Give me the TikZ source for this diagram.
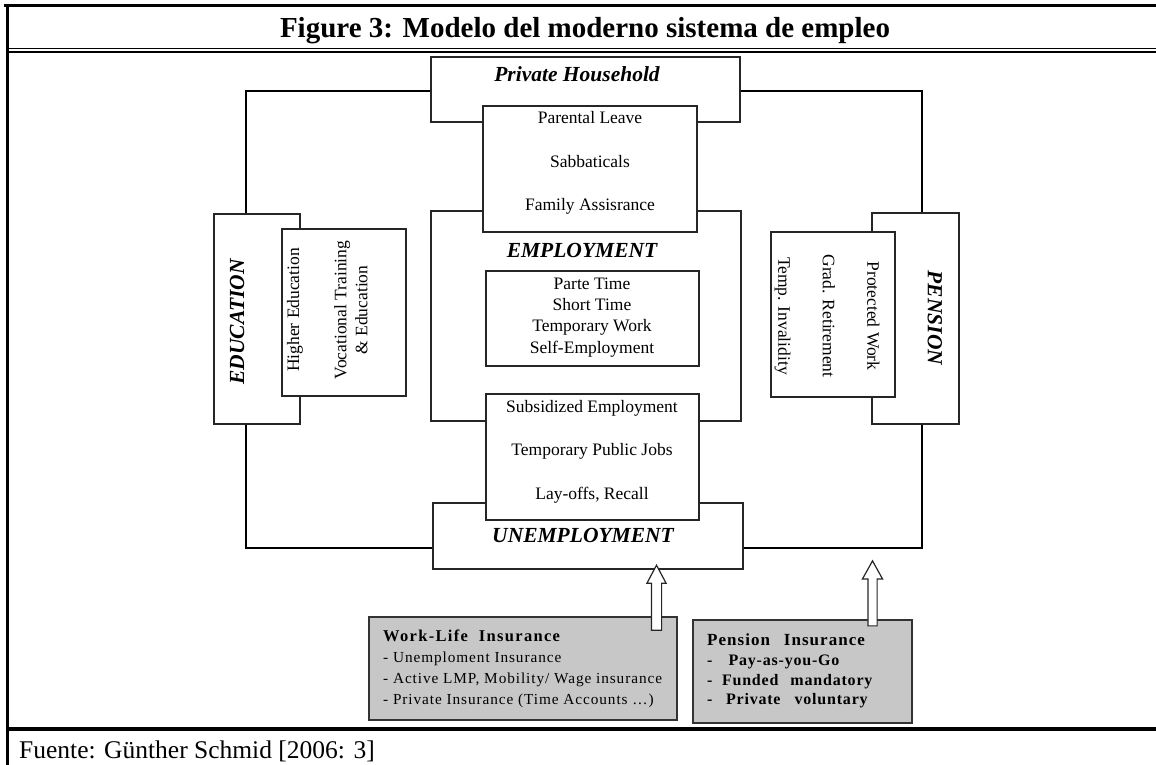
\documentclass[tikz,border=0pt]{standalone}
\usepackage{fontspec}
\setmainfont{Liberation Serif}
\usetikzlibrary{shapes.arrows}

\begin{document}
\begin{tikzpicture}[x=1pt,y=-1pt,
  box/.style={draw=black!85, fill=white, line width=1.4pt, inner sep=0pt},
  insbox/.style={draw=black!80, fill=black!22, line width=1.5pt, inner sep=0pt},
  txt/.style={anchor=base, inner sep=0pt, font=\fontsize{17.5}{21}\selectfont},
  head/.style={anchor=base, inner sep=0pt, font=\fontsize{21.5}{26}\selectfont\bfseries\itshape},
  item/.style={anchor=base west, inner sep=0pt, font=\fontsize{15.3}{18}\selectfont\addfontfeatures{LetterSpace=6}},
  pitem/.style={anchor=base west, inner sep=0pt, font=\fontsize{16}{19}\selectfont\bfseries\addfontfeatures{LetterSpace=5}},
  link/.style={line width=1.6pt, black},
  uparrow/.style={single arrow, draw=black!85, fill=white, line width=1.2pt, rotate=90,
    minimum height=65pt, minimum width=0pt, inner xsep=0pt}]

 \useasboundingbox (0,0) rectangle (1156,765);

% frame of the table
 \draw[line width=3.5pt] (4,5.5) -- (1156,5.5);
 \draw[line width=3.3pt] (7.5,4) -- (7.5,765);
 \draw[line width=1.6pt] (7,48.5) -- (1156,48.5);
 \draw[line width=1.6pt] (7,52) -- (1156,52);
 \draw[line width=4pt] (7,728.5) -- (1156,728.5);
 \node[anchor=base, inner sep=0pt, font=\fontsize{29}{34}\selectfont\bfseries] (title) at (585,38) {Figure 3: Modelo del moderno sistema de empleo};
 \node[anchor=base west, inner sep=0pt, font=\fontsize{25.5}{30}\selectfont] (source) at (19,758) {Fuente: Günther Schmid [2006: 3]};

% boxes, back to front
 \node[box, minimum width=309pt, minimum height=65pt] (ph) at (585.5,89.5) {};
 \node[box, minimum width=310pt, minimum height=210pt] (empl) at (586,316) {};
 \node[box, minimum width=310pt, minimum height=66pt] (unemp) at (588,536) {};
 \node[box, minimum width=214pt, minimum height=126pt] (famlv) at (590,169) {};
 \node[box, minimum width=213pt, minimum height=95pt] (flex) at (592.5,318.5) {};
 \node[box, minimum width=213pt, minimum height=126pt] (subs) at (592.5,457) {};
 \node[box, minimum width=86pt, minimum height=210pt] (edu) at (257,319) {};
 \node[box, minimum width=124pt, minimum height=167pt] (hied) at (344,312.5) {};
 \node[box, minimum width=87pt, minimum height=211pt] (pens) at (915.5,318.5) {};
 \node[box, minimum width=124pt, minimum height=165pt] (prot) at (833,314.5) {};

% connectors round the middle
 \draw[link] ([yshift=-1.5pt]ph.west) -| ([xshift=-11pt]edu.north);
 \draw[link] ([yshift=-1.5pt]ph.east) -| ([xshift=6.5pt]pens.north);
 \draw[link] ([xshift=-11pt]edu.south) |- ([yshift=-12pt]unemp.west);
 \draw[link] ([xshift=6.5pt]pens.south) |- ([yshift=-12pt]unemp.east);

% labels
 \node[head] (phtxt) at (577,82) {Private Household};
 \node[txt] (parl) at (590,124) {Parental Leave};
 \node[txt] (sabb) at (590,167) {Sabbaticals};
 \node[txt] (fama) at (590,210) {Family Assisrance};
 \node[head] (empltxt) at (582,257) {EMPLOYMENT};
 \node[txt] (partt) at (592,289) {Parte Time};
 \node[txt] (shortt) at (592,310.3) {Short Time};
 \node[txt] (tempw) at (592,331.6) {Temporary Work};
 \node[txt] (selfe) at (592,353) {Self-Employment};
 \node[txt] (subse) at (592,412) {Subsidized Employment};
 \node[txt] (tempj) at (592,455) {Temporary Public Jobs};
 \node[txt] (layoff) at (592,499) {Lay-offs, Recall};
 \node[head] (unemptxt) at (583,542) {UNEMPLOYMENT};

 \node[head, anchor=center, rotate=90] (edutxt) at (237,322) {EDUCATION};
 \node[txt, anchor=center, rotate=90] (hiedtxt) at (295,310) {Higher Education};
 \node[txt, anchor=center, rotate=90, align=center] (vocat) at (351,310) {Vocational Training\\\& Education};
 \node[head, anchor=center, rotate=-90] (penstxt) at (935,318) {PENSION};
 \node[txt, anchor=center, rotate=-90, align=center, font=\fontsize{17.5}{44.5}\selectfont] (prottxt) at (827,316) {Protected Work\\Grad. Retirement\\Temp. Invalidity};

% insurance boxes below
 \node[insbox, minimum width=308pt, minimum height=103pt] (wli) at (523,668.5) {};
 \node[insbox, minimum width=219pt, minimum height=103pt] (pni) at (802.5,671.5) {};

 \node[anchor=base west, inner sep=0pt, font=\fontsize{16.5}{19}\selectfont\bfseries\addfontfeatures{LetterSpace=8}] (wlihead) at (383,641) {Work-Life\ \ Insurance};
 \node[item] (wli1) at (383,662) {- Unemploment Insurance};
 \node[item] (wli2) at (383,683) {- Active LMP, Mobility/ Wage insurance};
 \node[item] (wli3) at (383,704) {- Private Insurance (Time Accounts \dots)};

 \node[anchor=base west, inner sep=0pt, font=\fontsize{17}{20}\selectfont\bfseries\addfontfeatures{LetterSpace=6}] (pnihead) at (707,645) {Pension\hspace{14pt}Insurance};
 \node[pitem] (pni1) at (707,665) {-\hspace{16pt}Pay-as-you-Go};
 \node[pitem] (pni2) at (707,685) {-\hspace{9.5pt}Funded\hspace{12pt}mandatory};
 \node[pitem] (pni3) at (707,704) {-\hspace{13.5pt}Private\hspace{14pt}voluntary};

% hollow arrows up into the boxes
 \node[uparrow, inner ysep=4.5pt, single arrow head extend=4.5pt, single arrow tip angle=56] (arwli) at (656.5,602.5) {};
 \node[uparrow, inner ysep=4pt, single arrow head extend=5.5pt, single arrow tip angle=58] (arpni) at (872.5,597.5) {};

\end{tikzpicture}
\end{document}
